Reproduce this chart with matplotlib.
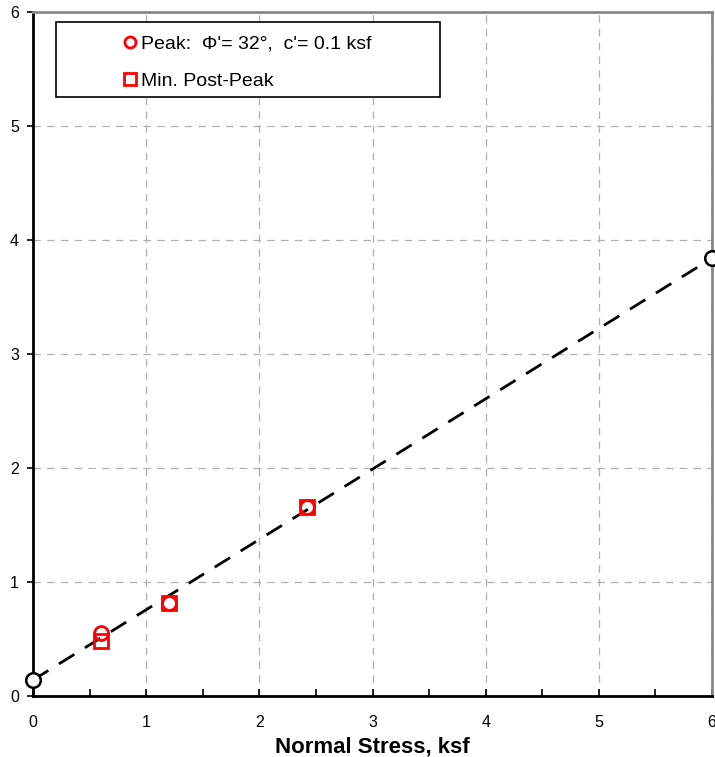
import matplotlib
matplotlib.use("Agg")
import matplotlib.pyplot as plt
from matplotlib.patches import Rectangle
from matplotlib.ticker import MultipleLocator

plt.rcParams['font.family'] = ['Liberation Sans', 'DejaVu Sans']

# Data
peak_x = [0.6, 1.2, 2.42]
peak_y = [0.55, 0.82, 1.66]
post_x = [0.6, 1.2, 2.42]
post_y = [0.48, 0.82, 1.66]
env_x = [0.0, 6.0]
env_y = [0.14, 3.84]
peak_label = "Peak:  \u03a6'= 32\u00b0,  c'= 0.1 ksf"
post_label = "Min. Post-Peak"
xlabel = "Normal Stress, ksf"

fig = plt.figure(figsize=(7.15, 7.57), dpi=100)
ax = fig.add_axes([33/715, 61/757, 679/715, 684/757])

ax.set_xlim(0, 6)
ax.set_ylim(0, 6)
ax.xaxis.set_major_locator(MultipleLocator(1))
ax.xaxis.set_minor_locator(MultipleLocator(0.5))
ax.yaxis.set_major_locator(MultipleLocator(1))

ax.grid(True, which='major', color='#b0b0b0', linestyle=(0, (6, 5)), linewidth=0.9)
ax.set_axisbelow(True)

ax.plot(env_x, env_y, color='black', linestyle=(0, (6.5, 4.5)), linewidth=2.0, zorder=3,
        marker='o', markersize=10.5, markerfacecolor='white', markeredgecolor='black',
        markeredgewidth=1.8, clip_on=False)

h1, = ax.plot(peak_x, peak_y, linestyle='none', marker='o', markersize=10,
              markerfacecolor='none', markeredgecolor='red', markeredgewidth=2, zorder=4)
h2, = ax.plot(post_x, post_y, linestyle='none', marker='s', markersize=10,
              markerfacecolor='none', markeredgecolor='red', markeredgewidth=2, zorder=4)

for s in ['left', 'bottom']:
    ax.spines[s].set_color('black')
    ax.spines[s].set_linewidth(2)
for s in ['top', 'right']:
    ax.spines[s].set_color('#888888')
    ax.spines[s].set_linewidth(2)

ax.tick_params(axis='x', which='both', direction='in', length=5, width=1.2,
               labelsize=11.5, pad=14)
ax.tick_params(axis='y', which='both', direction='out', length=4, width=1.2,
               labelsize=11.5, pad=6)

ax.set_xlabel(xlabel, fontsize=16, fontweight='bold', labelpad=4)

# legend box
rect = Rectangle((56/715, (757-97)/757), (440-56)/715, 75/757, transform=fig.transFigure,
                 facecolor='white', edgecolor='black', linewidth=1.2, zorder=5,
                 clip_on=False)
ax.add_patch(rect)
leg = ax.legend([h1, h2], [peak_label, post_label], loc='upper left',
                bbox_to_anchor=(105/715, (757-17.5)/757), bbox_transform=fig.transFigure,
                frameon=False, fontsize=14, handlelength=0.8, handletextpad=0.15,
                labelspacing=1.0, markerscale=0.8)
leg.set_zorder(6)

fig.savefig("out.png", dpi=100)
